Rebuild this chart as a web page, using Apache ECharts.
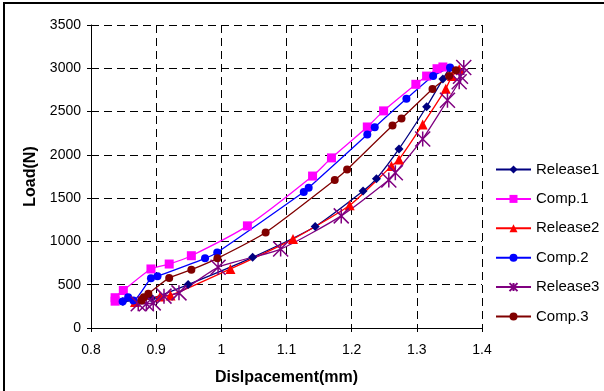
<!DOCTYPE html>
<html>
<head>
<meta charset="utf-8">
<script src="https://cdn.jsdelivr.net/npm/echarts@6/dist/echarts.min.js"></script>
<style>
html,body{margin:0;padding:0;background:#fff;}
#chart{width:604px;height:391px;}
</style>
</head>
<body>
<div id="chart"></div>
<script>
// ---- data (displacement mm, load N) ----
var seriesNames = ['Release1', 'Comp.1', 'Release2', 'Comp.2', 'Release3', 'Comp.3'];
var xTicks = [0.8, 0.9, 1, 1.1, 1.2, 1.3, 1.4];
var yTicks = [0, 500, 1000, 1500, 2000, 2500, 3000, 3500];

var release1 = [[0.849,306],[0.893,345],[0.949,502],[1.048,816],[1.144,1172],[1.2175,1582],[1.238,1724],[1.2726,2069],[1.315,2556],[1.340,2875],[1.350,3000]];
var comp1 = [[0.837,310],[0.837,350],[0.8496,433],[0.892,682],[0.920,739],[0.954,835],[1.040,1180],[1.140,1755],[1.169,1965],[1.224,2322],[1.249,2508],[1.2985,2815],[1.315,2910],[1.331,2995],[1.340,3015]];
var release2 = [[0.8675,300],[0.906,364],[0.922,375],[1.014,682],[1.110,1027],[1.197,1418],[1.261,1870],[1.2726,1946],[1.309,2350],[1.3445,2765],[1.354,2910],[1.365,2990]];
var comp2 = [[0.8485,306],[0.857,356],[0.865,318],[0.892,575],[0.902,598],[0.975,805],[0.9937,873],[1.1265,1571],[1.134,1621],[1.224,2234],[1.2354,2318],[1.284,2647],[1.325,2910],[1.351,3010]];
var release3 = [[0.8725,280],[0.885,280],[0.8955,290],[0.912,368],[0.935,406],[0.995,701],[1.091,912],[1.184,1295],[1.257,1709],[1.267,1793],[1.309,2184],[1.347,2630],[1.365,2845],[1.367,2907],[1.372,3010]];
var comp3 = [[0.8777,318],[0.881,356],[0.888,395],[0.920,579],[0.954,674],[0.994,805],[1.068,1103],[1.174,1709],[1.193,1831],[1.2627,2339],[1.2765,2419],[1.324,2761],[1.3496,2912],[1.360,2976]];

var allData = [release1, comp1, release2, comp2, release3, comp3];
var colors = ['#000080', '#FF00FF', '#FF0000', '#0000FF', '#800080', '#800000'];
var symbols = ['diamond', 'rect', 'triangle', 'circle', 'path://M0,0L20,20M0,20L20,0M10,0L10,20', 'circle'];
var symbolSizes = [9, 9, 10, 8, 15, 8];

var FONT = 'Liberation Sans, Arial, sans-serif';

var series = seriesNames.map(function (name, i) {
  var isStar = i === 4;
  return {
    name: name,
    type: 'line',
    data: allData[i],
    smooth: 0.2,
    symbol: symbols[i],
    symbolSize: symbolSizes[i],
    showAllSymbol: true,
    color: colors[i],
    lineStyle: { color: colors[i], width: 1.3 },
    itemStyle: isStar
      ? { color: colors[i], borderColor: colors[i], borderWidth: 1.5 }
      : { color: colors[i], borderWidth: 0 },
    emphasis: { disabled: true },
    animation: false
  };
});

var chart = echarts.init(document.getElementById('chart'), null, { renderer: 'canvas' });
chart.setOption({
  animation: false,
  backgroundColor: '#fff',
  textStyle: { fontFamily: FONT, color: '#000' },
  graphic: [{
    type: 'rect',
    shape: { x: 4, y: 3, width: 700, height: 500 },
    style: { fill: 'none', stroke: '#000', lineWidth: 2 },
    silent: true
  }],
  grid: { left: 91, right: 122, top: 25, bottom: 62, containLabel: false },
  legend: {
    orient: 'vertical',
    left: 490,
    top: 157,
    padding: 5,
    itemWidth: 35,
    itemHeight: 10,
    itemGap: 14.4,
    data: seriesNames,
    textStyle: { fontFamily: FONT, fontSize: 15, color: '#000' }
  },
  xAxis: {
    type: 'value',
    min: xTicks[0],
    max: xTicks[xTicks.length - 1],
    interval: 0.1,
    name: 'Dislpacement(mm)',
    nameLocation: 'middle',
    nameGap: 42,
    nameTextStyle: { fontFamily: FONT, fontSize: 16, fontWeight: 'bold', color: '#000' },
    axisLine: { show: true, onZero: false, lineStyle: { color: '#000', width: 1 } },
    axisTick: { show: true, inside: false, length: 4, lineStyle: { color: '#000' } },
    axisLabel: {
      margin: 15, fontSize: 14, color: '#000', fontFamily: FONT,
      formatter: function (v) { return String(Math.round(v * 10) / 10); }
    },
    splitLine: { show: true, lineStyle: { color: '#000', type: [8, 5], width: 1 } }
  },
  yAxis: {
    type: 'value',
    min: yTicks[0],
    max: yTicks[yTicks.length - 1],
    interval: 500,
    name: 'Load(N)',
    nameLocation: 'middle',
    nameGap: 46,
    nameTextStyle: { fontFamily: FONT, fontSize: 16, fontWeight: 'bold', color: '#000' },
    axisLine: { show: true, lineStyle: { color: '#000', width: 1 } },
    axisTick: { show: true, inside: false, length: 4, lineStyle: { color: '#000' } },
    axisLabel: {
      margin: 10, fontSize: 14, color: '#000', fontFamily: FONT,
      formatter: function (v) { return String(v); }
    },
    splitLine: { show: true, lineStyle: { color: '#000', type: [8, 5], width: 1 } }
  },
  series: series
});
</script>
</body>
</html>
